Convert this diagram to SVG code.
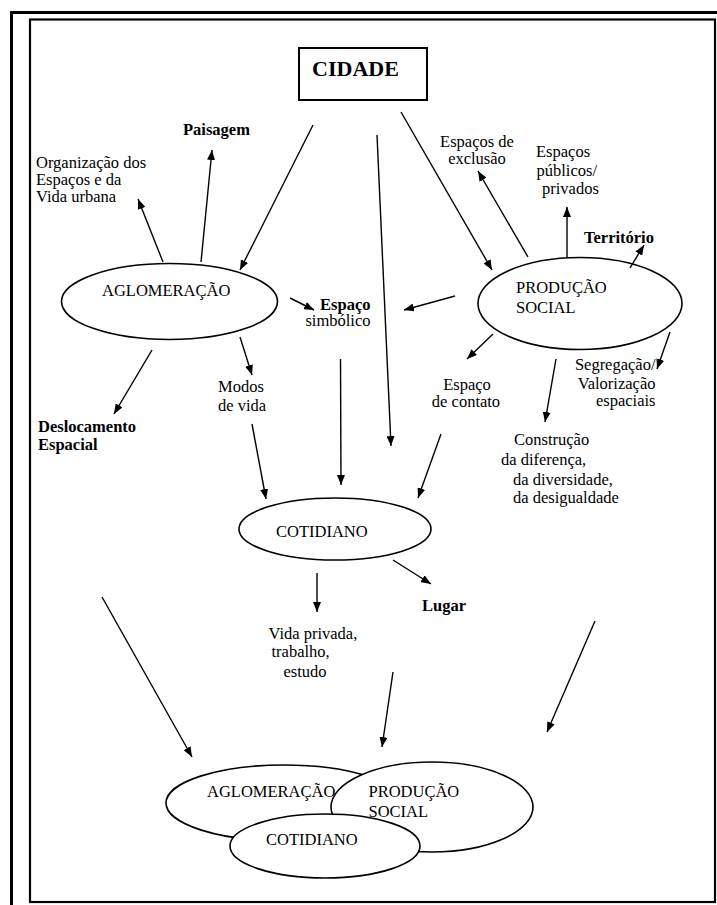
<svg xmlns="http://www.w3.org/2000/svg" width="717" height="905" viewBox="0 0 717 905">
<style>
text{font-family:"Liberation Serif","Times New Roman",serif;font-size:16.5px;fill:#000}
.b{font-weight:bold}
.c{text-anchor:middle}
.e{text-anchor:end}
.node{fill:#fff;stroke:#000;stroke-width:1.6}
.conn line{stroke:#000;stroke-width:1.4;marker-end:url(#ah)}
</style>
<defs>
<marker id="ah" markerUnits="userSpaceOnUse" markerWidth="10" markerHeight="8" refX="10" refY="4" orient="auto">
<path d="M0,0 L10,4 L0,8 z" fill="#000"/>
</marker>
</defs>
<rect width="717" height="905" fill="#fff"/>
<g id="frame">
<line x1="10" y1="12.5" x2="717" y2="12.5" stroke="#000" stroke-width="3"/>
<line x1="11.5" y1="11" x2="11.5" y2="905" stroke="#000" stroke-width="3"/>
<rect x="30" y="19.5" width="685" height="882.5" fill="none" stroke="#000" stroke-width="2.2"/>
</g>
<g id="cidade">
<rect x="299" y="48" width="128" height="52" fill="#fff" stroke="#000" stroke-width="2"/>
<text x="355.5" y="76" class="b c" style="font-size:22px">CIDADE</text>
</g>
<g id="aglomeracao">
<ellipse class="node" cx="169.5" cy="301.5" rx="108" ry="38"/>
<text x="102" y="296">AGLOMERAÇÃO</text>
</g>
<g id="producao">
<ellipse class="node" cx="580" cy="303.5" rx="102" ry="46"/>
<text x="516" y="293">PRODUÇÃO</text>
<text x="516" y="313">SOCIAL</text>
</g>
<g id="cotidiano">
<ellipse class="node" cx="335" cy="529" rx="96" ry="31"/>
<text x="276" y="537">COTIDIANO</text>
</g>
<g id="paisagem"><text x="183" y="135" class="b">Paisagem</text></g>
<g id="organizacao">
<text x="36" y="168">Organização dos</text>
<text x="36" y="185">Espaços e da</text>
<text x="36" y="202">Vida urbana</text>
</g>
<g id="exclusao">
<text x="477" y="147" class="c">Espaços de</text>
<text x="477" y="163.5" class="c">exclusão</text>
</g>
<g id="publicos">
<text x="536" y="157">Espaços</text>
<text x="536.5" y="175.5">públicos/</text>
<text x="542" y="194">privados</text>
</g>
<g id="territorio"><text x="584" y="243" class="b">Território</text></g>
<g id="simbolico">
<text x="370.5" y="309.5" class="b e">Espaço</text>
<text x="370.5" y="326" class="e">simbólico</text>
</g>
<g id="modos">
<text x="218" y="392">Modos</text>
<text x="218" y="410.5">de vida</text>
</g>
<g id="deslocamento">
<text x="38" y="432" class="b">Deslocamento</text>
<text x="38" y="449.5" class="b">Espacial</text>
</g>
<g id="contato">
<text x="467" y="390" class="c">Espaço</text>
<text x="466" y="407" class="c">de contato</text>
</g>
<g id="segregacao">
<text x="655.5" y="370" class="e">Segregação/</text>
<text x="655.5" y="388.5" class="e">Valorização</text>
<text x="655.5" y="406" class="e">espaciais</text>
</g>
<g id="construcao">
<text x="514" y="445">Construção</text>
<text x="501" y="465">da diferença,</text>
<text x="513" y="485">da diversidade,</text>
<text x="513" y="503">da desigualdade</text>
</g>
<g id="lugar"><text x="422" y="611" class="b">Lugar</text></g>
<g id="vida">
<text x="268.5" y="638.5">Vida privada,</text>
<text x="271.5" y="657">trabalho,</text>
<text x="283.5" y="676.5">estudo</text>
</g>
<g id="conjunto">
<ellipse class="node" cx="284" cy="803" rx="118" ry="38"/>
<ellipse class="node" cx="432" cy="807" rx="101" ry="45"/>
<ellipse class="node" cx="325" cy="846" rx="95" ry="32"/>
<text x="207" y="797">AGLOMERAÇÃO</text>
<text x="368.5" y="796.5">PRODUÇÃO</text>
<text x="368.5" y="816.5">SOCIAL</text>
<text x="266" y="844.5">COTIDIANO</text>
</g>
<g id="connectors" class="conn">
<line x1="313" y1="125" x2="240" y2="270"/>
<line x1="377" y1="135" x2="391" y2="446"/>
<line x1="401" y1="112" x2="492" y2="270"/>
<line x1="163" y1="262" x2="138" y2="199"/>
<line x1="201" y1="262" x2="212" y2="150"/>
<line x1="290" y1="298" x2="314" y2="310"/>
<line x1="240" y1="337" x2="252" y2="375"/>
<line x1="152" y1="350" x2="114" y2="414"/>
<line x1="252" y1="424" x2="266" y2="499"/>
<line x1="340.5" y1="359" x2="341" y2="485"/>
<line x1="455" y1="296" x2="404" y2="310"/>
<line x1="528" y1="257" x2="478" y2="171"/>
<line x1="567" y1="258" x2="567" y2="207"/>
<line x1="630" y1="268" x2="644" y2="245"/>
<line x1="493" y1="334" x2="467" y2="359"/>
<line x1="556" y1="359" x2="545" y2="422"/>
<line x1="670" y1="332" x2="657" y2="369"/>
<line x1="441" y1="434" x2="418" y2="498"/>
<line x1="393" y1="560" x2="431" y2="584"/>
<line x1="317" y1="573" x2="317" y2="612"/>
<line x1="102" y1="597" x2="192" y2="757"/>
<line x1="393" y1="672" x2="382" y2="747"/>
<line x1="595" y1="621" x2="547" y2="732"/>
</g>
</svg>
